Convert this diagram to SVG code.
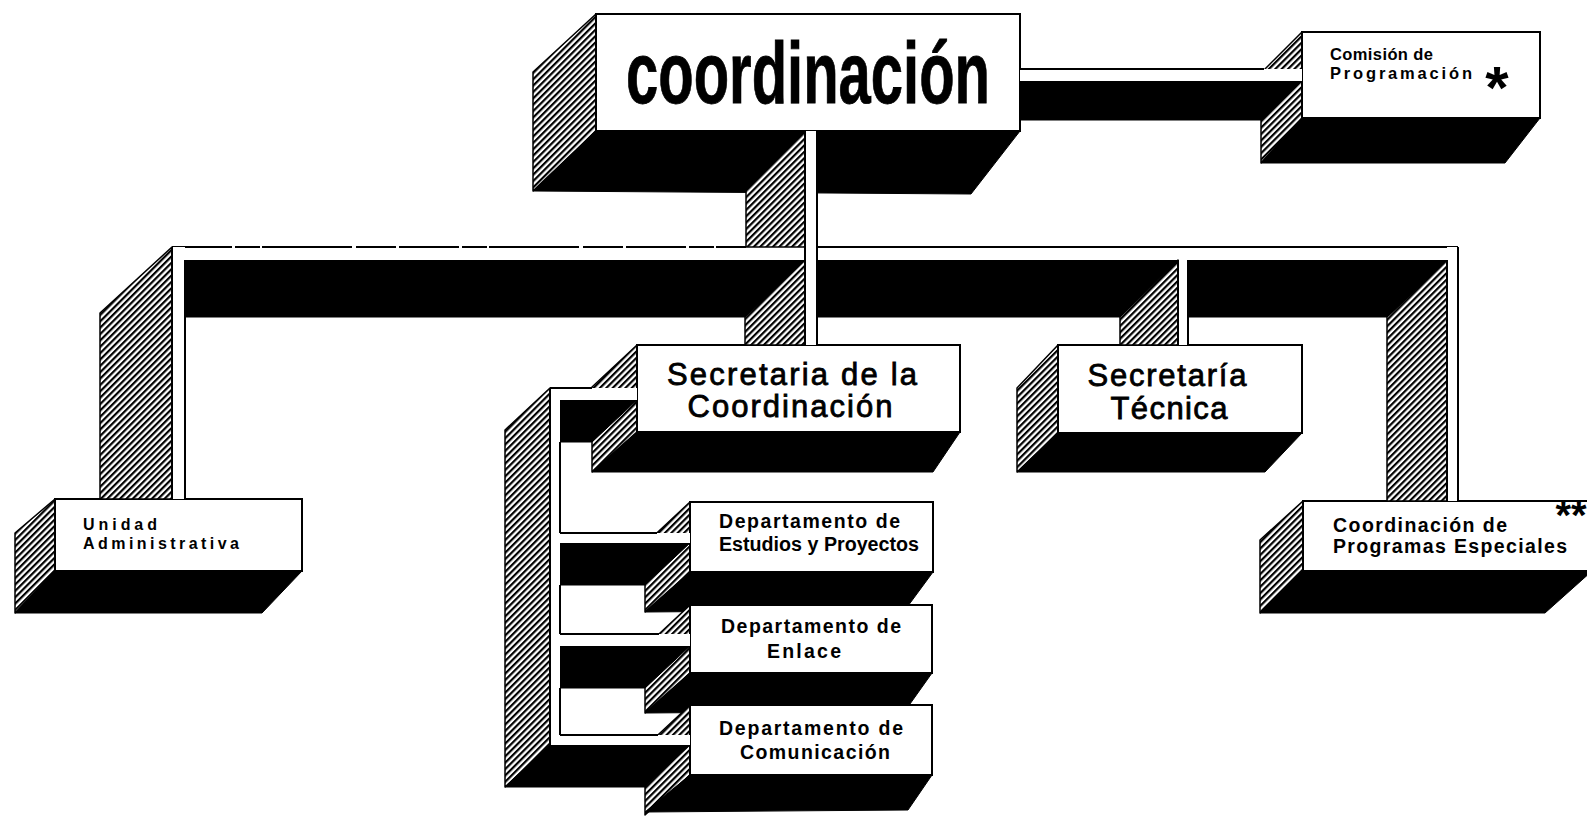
<svg xmlns="http://www.w3.org/2000/svg" width="1587" height="816" viewBox="0 0 1587 816">
<defs>
<pattern id="hatch" width="4.5" height="4.5" patternUnits="userSpaceOnUse" patternTransform="rotate(45)">
<rect width="4.5" height="4.5" fill="#fff"/>
<rect width="2.2" height="4.5" fill="#000"/>
</pattern>
<style>
.h{fill:url(#hatch);stroke:#000;stroke-width:1.5;stroke-linejoin:round}
.k{fill:#000;stroke:#000;stroke-width:1;stroke-linejoin:round}
.f{fill:#fff;stroke:#000;stroke-width:2}
.w{fill:#fff;stroke:none}
.ln{stroke:#000;stroke-width:2;fill:none}
.lab{font-family:"Liberation Sans",Arial,sans-serif;font-weight:bold;fill:#000}
.mid{font-family:"Liberation Sans",Arial,sans-serif;fill:#000;stroke:#000;stroke-width:0.8}
</style>
</defs>
<rect width="1587" height="816" fill="#fff"/>

<!-- NODES -->
<g id="n-comision">
<polygon class="h" points="1302,32 1261,73 1261,163 1302,118"/>
<polygon class="k" points="1302,118 1540,118 1505,163 1261,163"/>
<rect class="f" x="1302" y="32" width="238" height="86"/>
<text class="lab" font-size="16.5" x="1330" y="60" textLength="103">Comisión de</text>
<text class="lab" font-size="16.5" x="1330" y="79" textLength="142">Programación</text>
<text class="lab" font-size="60" x="1497" y="108" text-anchor="middle">*</text>
</g>

<g id="n-coordinacion">
<polygon class="h" points="596,14 533,72 533,191 596,131"/>
<polygon class="k" points="596,131 1020,131 971,194 533,191"/>
<rect class="f" x="596" y="14" width="424" height="117"/>
<text class="mid" font-weight="bold" font-size="87" stroke-width="2" x="626" y="103" textLength="364" lengthAdjust="spacingAndGlyphs">coordinación</text>
</g>

<g id="n-unidad">
<polygon class="h" points="55,499 15,533 15,613 55,571"/>
<polygon class="k" points="55,571 302,571 262,613 15,613"/>
<rect class="f" x="55" y="499" width="247" height="72"/>
<text class="lab" font-size="16" x="83" y="530" textLength="74">Unidad</text>
<text class="lab" font-size="16" x="83" y="549" textLength="156">Administrativa</text>
</g>

<g id="n-sec-coord">
<polygon class="h" points="637,345 592,387 592,472 637,432"/>
<polygon class="k" points="637,432 960,432 933,472 592,472"/>
<rect class="f" x="637" y="345" width="323" height="87"/>
<text class="mid" font-size="31" x="792" y="385" text-anchor="middle" textLength="250">Secretaria de la</text>
<text class="mid" font-size="31" x="790" y="417" text-anchor="middle" textLength="205">Coordinación</text>
</g>

<g id="n-sec-tecnica">
<polygon class="h" points="1058,345 1017,388 1017,472 1058,433"/>
<polygon class="k" points="1058,433 1302,433 1265,472 1017,472"/>
<rect class="f" x="1058" y="345" width="244" height="88"/>
<text class="mid" font-size="31" x="1167" y="386" text-anchor="middle" textLength="159">Secretaría</text>
<text class="mid" font-size="31" x="1169" y="419" text-anchor="middle" textLength="117">Técnica</text>
</g>

<g id="n-programas">
<polygon class="h" points="1303,501 1260,540 1260,613 1303,571"/>
<polygon class="k" points="1303,571 1592,571 1545,613 1260,613"/>
<rect class="f" x="1303" y="501" width="300" height="70"/>
<text class="lab" font-size="19.5" x="1333" y="532" textLength="174">Coordinación de</text>
<text class="lab" font-size="19.5" x="1333" y="553" textLength="234">Programas Especiales</text>
<text class="lab" font-size="40" x="1571" y="529" text-anchor="middle">**</text>
</g>

<g id="n-estudios">
<polygon class="h" points="690,502 645,544 645,612 690,572"/>
<polygon class="k" points="690,572 933,572 905,610 645,612"/>
<rect class="f" x="690" y="502" width="243" height="70"/>
<text class="lab" font-size="19.5" x="719" y="528" textLength="181">Departamento de</text>
<text class="lab" font-size="19.5" x="719" y="551" textLength="200" lengthAdjust="spacingAndGlyphs">Estudios y Proyectos</text>
</g>

<g id="n-enlace">
<polygon class="h" points="690,605 645,647 645,713 690,673"/>
<polygon class="k" points="690,673 932,673 905,711 645,713"/>
<rect class="f" x="690" y="605" width="242" height="68"/>
<text class="lab" font-size="19.5" x="721" y="633" textLength="180">Departamento de</text>
<text class="lab" font-size="19.5" x="767" y="658" textLength="74">Enlace</text>
</g>

<g id="n-comunicacion">
<polygon class="h" points="690,705 645,747 645,815 690,775"/>
<polygon class="k" points="690,775 932,775 908,810 645,812"/>
<rect class="f" x="690" y="705" width="242" height="70"/>
<text class="lab" font-size="19.5" x="719" y="735" textLength="184">Departamento de</text>
<text class="lab" font-size="19.5" x="740" y="759" textLength="150">Comunicación</text>
</g>

<!-- CONNECTORS -->
<g id="connectors">
<polygon class="k" points="1020,81 1302,81 1262,120 1020,120"/>
<rect class="w" x="1020" y="69" width="282" height="12"/>
<line class="ln" x1="1020" y1="69" x2="1264" y2="69"/>

<polygon class="h" points="172,247 100,313 100,499 172,499"/>
<polygon class="h" points="1447,260 1387,317 1387,501 1447,501"/>
<polygon class="k" points="185,260 1447,260 1387,317 185,317"/>
<rect class="w" x="172" y="247" width="1286" height="13"/>
<line class="ln" x1="172" y1="247" x2="746" y2="247" stroke-dasharray="60 3 25 2 90 4 40 3"/>
<line class="ln" x1="817" y1="247" x2="1458" y2="247"/>

<polygon class="h" points="805,131 746,190 746,247 805,247"/>
<polygon class="h" points="805,260 745,317 745,345 805,345"/>
<rect class="w" x="805" y="131" width="12" height="214"/>
<line class="ln" x1="805" y1="131" x2="805" y2="345"/>
<line class="ln" x1="817" y1="131" x2="817" y2="345"/>

<polygon class="h" points="1178,260 1120,317 1120,345 1178,345"/>
<rect class="w" x="1178" y="260" width="10" height="85"/>
<line class="ln" x1="1178" y1="260" x2="1178" y2="345"/>
<line class="ln" x1="1188" y1="260" x2="1188" y2="345"/>

<rect class="w" x="172" y="247" width="13" height="252"/>
<line class="ln" x1="172" y1="247" x2="172" y2="499"/>
<line class="ln" x1="185" y1="260" x2="185" y2="499"/>

<rect class="w" x="1447" y="247" width="11" height="254"/>
<line class="ln" x1="1458" y1="247" x2="1458" y2="501"/>
<line class="ln" x1="1447" y1="260" x2="1447" y2="501"/>

<polygon class="h" points="550,388 505,430 505,787 550,745"/>
<polygon class="k" points="560,400 637,400 592,442 560,442"/>
<polygon class="k" points="560,543 690,543 645,585 560,585"/>
<polygon class="k" points="560,646 690,646 645,688 560,688"/>
<polygon class="k" points="550,745 690,745 645,787 505,787"/>
<rect class="w" x="550" y="388" width="87" height="12"/>
<rect class="w" x="550" y="533" width="140" height="10"/>
<rect class="w" x="550" y="634" width="140" height="12"/>
<rect class="w" x="550" y="735" width="140" height="10"/>
<rect class="w" x="550" y="388" width="10" height="357"/>
<line class="ln" x1="550" y1="388" x2="592" y2="388"/>
<line class="ln" x1="550" y1="388" x2="550" y2="745"/>
<line class="ln" x1="560" y1="442" x2="560" y2="533"/>
<line class="ln" x1="560" y1="585" x2="560" y2="634"/>
<line class="ln" x1="560" y1="688" x2="560" y2="735"/>
<line class="ln" x1="560" y1="533" x2="657" y2="533"/>
<line class="ln" x1="560" y1="634" x2="659" y2="634"/>
<line class="ln" x1="560" y1="735" x2="658" y2="735"/>
</g>
</svg>
